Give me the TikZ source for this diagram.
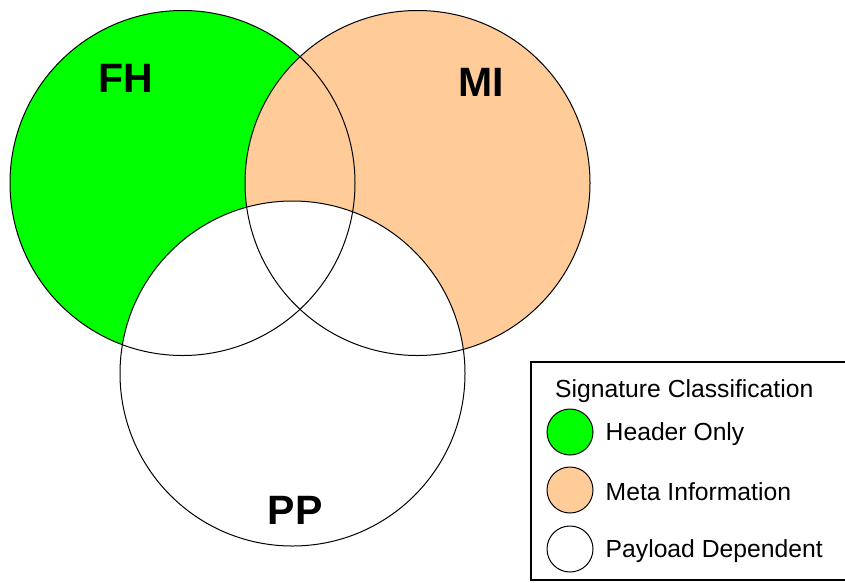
\documentclass[tikz,border=0pt]{standalone}
\usepackage{fontspec}
\setmainfont{Liberation Sans}
\usepackage{tikz}
\usetikzlibrary{positioning}
\definecolor{hdrgreen}{HTML}{00FF00}
\definecolor{metapeach}{HTML}{FFCC99}
\tikzstyle{setfill}=[circle,inner sep=0pt,minimum size=345pt]
\tikzstyle{setring}=[circle,inner sep=0pt,minimum size=345pt,draw,line width=1pt]
\tikzstyle{setlabel}=[font=\fontsize{41}{46}\selectfont\bfseries]
\tikzstyle{keydot}=[circle,draw,line width=1pt,inner sep=0pt,minimum size=46pt]
\tikzstyle{keytext}=[font=\fontsize{24.7}{28}\selectfont,inner sep=0pt,yshift=-2pt]

\begin{document}
\begin{tikzpicture}[x=1pt,y=-1pt,node distance=12pt]
    \useasboundingbox (0,0) rectangle (845,582);

    % the three sets
    \node[setfill,fill=hdrgreen]  (fh) at (182.5,183) {};
    \node[setfill,fill=metapeach] (mi) at (417.5,183) {};
    \node[setfill,fill=white]     (pp) at (292.5,373.5) {};
    \node[setring] at (fh.center) {};
    \node[setring] at (mi.center) {};
    \node[setring] at (pp.center) {};

    \node[setlabel] (fhlab) at (126,78)  {FH};
    \node[setlabel] (milab) at (481,82)  {MI};
    \node[setlabel] (pplab) at (295,510) {PP};

    % legend
    \draw[line width=2pt] (531,362) rectangle (847,580);
    \node[keytext,anchor=west] (keytitle) at (555,389) {Signature Classification};
    \node[keydot,fill=hdrgreen]  (khdr)  at (570,432) {};
    \node[keydot,fill=metapeach] (kmeta) at (570,490) {};
    \node[keydot,fill=white]     (kpay)  at (570,549) {};
    \node[keytext,right=of khdr]  {Header Only};
    \node[keytext,right=of kmeta] {Meta Information};
    \node[keytext,right=of kpay]  {Payload Dependent};
\end{tikzpicture}
\end{document}
